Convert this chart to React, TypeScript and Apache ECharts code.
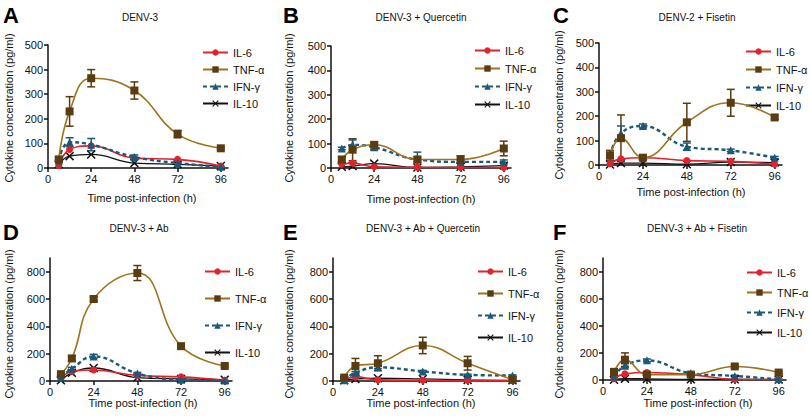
import React, { useEffect, useRef } from "react";
import * as echarts from "echarts";

const TIMES = [6, 12, 24, 48, 72, 96];
const X_TICKS = [0, 24, 48, 72, 96];
const Y_TICKS_TOP = [0, 100, 200, 300, 400, 500];
const Y_TICKS_BOTTOM = [0, 200, 400, 600, 800];
const SERIES_NAMES = ["IL-6", "TNF-α", "IFN-γ", "IL-10"];

const PANEL_LETTERS = ["A", "B", "C", "D", "E", "F"];
const PANEL_TITLES = [
  "DENV-3",
  "DENV-3 + Quercetin",
  "DENV-2 + Fisetin",
  "DENV-3 + Ab",
  "DENV-3 + Ab + Quercetin",
  "DENV-3 + Ab + Fisetin",
];

// Panel A
const A_IL6 = [10, 75, 90, 40, 35, 8];
const A_TNF = [35, 230, 365, 315, 138, 80];
const A_IFN = [30, 105, 95, 45, 20, 5];
const A_IL10 = [15, 48, 55, 20, 15, 8];
const A_TNF_ERR = [8, 60, 35, 35, 15, 5];
const A_IFN_ERR = [5, 18, 25, 8, 5, 2];
// Panel B
const B_IL6 = [15, 20, 5, 3, 2, 2];
const B_TNF = [35, 75, 95, 35, 35, 80];
const B_IFN = [80, 95, 85, 35, 25, 25];
const B_IL10 = [5, 8, 18, 2, 5, 10];
const B_TNF_ERR = [10, 45, 10, 10, 15, 30];
const B_IFN_ERR = [5, 20, 10, 30, 5, 8];
// Panel C
const C_IL6 = [5, 25, 30, 18, 15, 3];
const C_TNF = [40, 110, 30, 175, 255, 195];
const C_IFN = [40, 130, 160, 75, 60, 30];
const C_IL10 = [2, 8, 8, 3, 12, 10];
const C_TNF_ERR = [20, 95, 8, 78, 55, 8];
const C_IFN_ERR = [5, 30, 8, 15, 5, 5];
// Panel D
const D_IL6 = [20, 70, 80, 40, 30, 5];
const D_TNF = [50, 165, 600, 790, 255, 110];
const D_IFN = [30, 90, 180, 55, 10, 3];
const D_IL10 = [5, 60, 95, 25, 15, 10];
const D_TNF_ERR = [5, 20, 15, 55, 15, 10];
const D_IFN_ERR = [5, 10, 15, 8, 5, 2];
// Panel E
const E_IL6 = [5, 30, 8, 5, 3, 2];
const E_TNF = [25, 110, 130, 260, 130, 10];
const E_IFN = [5, 60, 100, 70, 45, 40];
const E_IL10 = [5, 15, 20, 15, 8, 5];
const E_TNF_ERR = [5, 55, 55, 60, 50, 5];
const E_IFN_ERR = [2, 10, 10, 8, 5, 5];
// Panel F
const F_IL6 = [10, 45, 55, 40, 5, 3];
const F_TNF = [60, 150, 40, 40, 100, 55];
const F_IFN = [25, 105, 145, 50, 30, 5];
const F_IL10 = [2, 10, 8, 5, 5, 3];
const F_TNF_ERR = [10, 50, 8, 8, 10, 8];
const F_IFN_ERR = [5, 15, 10, 5, 5, 2];

const PANELS = [
  { il6: A_IL6, tnf: A_TNF, ifn: A_IFN, il10: A_IL10, tnfErr: A_TNF_ERR, ifnErr: A_IFN_ERR },
  { il6: B_IL6, tnf: B_TNF, ifn: B_IFN, il10: B_IL10, tnfErr: B_TNF_ERR, ifnErr: B_IFN_ERR },
  { il6: C_IL6, tnf: C_TNF, ifn: C_IFN, il10: C_IL10, tnfErr: C_TNF_ERR, ifnErr: C_IFN_ERR },
  { il6: D_IL6, tnf: D_TNF, ifn: D_IFN, il10: D_IL10, tnfErr: D_TNF_ERR, ifnErr: D_IFN_ERR },
  { il6: E_IL6, tnf: E_TNF, ifn: E_IFN, il10: E_IL10, tnfErr: E_TNF_ERR, ifnErr: E_IFN_ERR },
  { il6: F_IL6, tnf: F_TNF, ifn: F_IFN, il10: F_IL10, tnfErr: F_TNF_ERR, ifnErr: F_IFN_ERR },
];

// layout
const GRIDS = [
  { left: 48, top: 45, width: 180, height: 123 },
  { left: 331, top: 46, width: 180, height: 122 },
  { left: 599, top: 43, width: 183, height: 122 },
  { left: 50, top: 258, width: 182, height: 123 },
  { left: 333, top: 258, width: 187, height: 123 },
  { left: 603, top: 258, width: 183, height: 122 },
];
const LEGENDS = [
  { left: 202, top: 47, gap: 6 },
  { left: 474, top: 45, gap: 7 },
  { left: 745, top: 46, gap: 7 },
  { left: 204, top: 266, gap: 16 },
  { left: 477, top: 266, gap: 11 },
  { left: 746, top: 267, gap: 9 },
];
const TITLE_POS = [
  [140, 17], [421, 17], [697, 17], [139, 228], [423, 228], [697, 228],
];
const LETTER_POS = [
  [3, 15], [283, 15], [553, 15], [3, 232], [283, 232], [553, 232],
];
const XNAME_POS = [
  [142, 198], [421, 199], [691, 192], [143, 403], [421, 403], [698, 403],
];
const YNAME_POS = [
  [9, 108], [289, 108], [559, 105], [9, 324], [289, 324], [559, 324],
];

const FONT = "'Liberation Sans', Arial, Helvetica, sans-serif";
const RED = "#e3232b";
const TNF_LINE = "#a0721e";
const TNF_MARK = "#5a3c12";
const TEAL = "#1c5878";
const BLACK = "#111111";
const X_SYMBOL =
  "path://M0,1.2 L1.2,0 L5,3.8 L8.8,0 L10,1.2 L6.2,5 L10,8.8 L8.8,10 L5,6.2 L1.2,10 L0,8.8 L3.8,5 Z";

function errorSeries(gi: number, vals: number[], errs: number[], color: string) {
  const data = TIMES.map((t, i) => [t, Math.max(0, vals[i] - errs[i]), vals[i] + errs[i]]).filter(
    (_, i) => errs[i] > 0
  );
  return {
    type: "custom",
    xAxisIndex: gi,
    yAxisIndex: gi,
    z: 1,
    silent: true,
    encode: { x: 0, y: [1, 2] },
    data,
    renderItem: (params: any, api: any) => {
      const x = api.value(0);
      const lo = api.coord([x, api.value(1)]);
      const hi = api.coord([x, api.value(2)]);
      const c = 4;
      const style = { stroke: color, lineWidth: 1.5 };
      return {
        type: "group",
        children: [
          { type: "line", shape: { x1: lo[0], y1: lo[1], x2: hi[0], y2: hi[1] }, style },
          { type: "line", shape: { x1: hi[0] - c, y1: hi[1], x2: hi[0] + c, y2: hi[1] }, style },
          { type: "line", shape: { x1: lo[0] - c, y1: lo[1], x2: lo[0] + c, y2: lo[1] }, style },
        ],
      };
    },
  };
}

function lineSeries(gi: number, name: string, vals: number[]) {
  const base: any = {
    type: "line",
    name,
    xAxisIndex: gi,
    yAxisIndex: gi,
    smooth: 0.45,
    data: TIMES.map((t, i) => [t, vals[i]]),
  };
  if (name === "IL-6") {
    Object.assign(base, {
      z: 3,
      symbol: "circle",
      symbolSize: 7,
      itemStyle: { color: RED },
      lineStyle: { color: RED, width: 1.6 },
    });
  } else if (name === "TNF-α") {
    Object.assign(base, {
      z: 5,
      symbol: "rect",
      symbolSize: 8,
      itemStyle: { color: TNF_MARK },
      lineStyle: { color: TNF_LINE, width: 1.6 },
    });
  } else if (name === "IFN-γ") {
    Object.assign(base, {
      z: 4,
      symbol: "triangle",
      symbolSize: 8,
      itemStyle: { color: TEAL },
      lineStyle: { color: TEAL, width: 2.4, type: [4, 3] },
    });
  } else {
    Object.assign(base, {
      z: 2,
      symbol: X_SYMBOL,
      symbolSize: 9,
      itemStyle: { color: BLACK },
      lineStyle: { color: BLACK, width: 1.3 },
    });
  }
  return base;
}

export default function App() {
  const ref = useRef<HTMLDivElement>(null);
  useEffect(() => {
    document.body.style.margin = "0";
    if (!ref.current) return;
    const chart = echarts.init(ref.current, null, { renderer: "svg" });

    const grid: any[] = [];
    const xAxis: any[] = [];
    const yAxis: any[] = [];
    const legend: any[] = [];
    const series: any[] = [];
    const graphic: any[] = [];

    PANELS.forEach((p, gi) => {
      const top = gi < 3;
      grid.push({ ...GRIDS[gi], containLabel: false });
      const axisLine = { show: true, onZero: false, lineStyle: { color: BLACK, width: 1.5 } };
      xAxis.push({
        type: "value",
        gridIndex: gi,
        min: 0,
        max: 100,
        axisLine,
        axisTick: { show: true, length: 4, customValues: X_TICKS, lineStyle: { color: BLACK, width: 1.5 } },
        axisLabel: { customValues: X_TICKS, fontSize: 11, color: BLACK, fontFamily: FONT, margin: 5 },
        splitLine: { show: false },
      });
      const yt = top ? Y_TICKS_TOP : Y_TICKS_BOTTOM;
      yAxis.push({
        type: "value",
        gridIndex: gi,
        min: 0,
        max: top ? 500 : 900,
        axisLine,
        axisTick: { show: true, length: 4, customValues: yt, lineStyle: { color: BLACK, width: 1.5 } },
        axisLabel: { customValues: yt, fontSize: 11, color: BLACK, fontFamily: FONT, margin: 5 },
        splitLine: { show: false },
      });
      legend.push({
        data: SERIES_NAMES,
        orient: "vertical",
        left: LEGENDS[gi].left,
        top: LEGENDS[gi].top,
        itemGap: LEGENDS[gi].gap,
        itemWidth: 25,
        itemHeight: 8,
        selectedMode: false,
        padding: 0,
        textStyle: { fontSize: 11, lineHeight: 11, color: BLACK, fontFamily: FONT },
      });
      series.push(errorSeries(gi, p.tnf, p.tnfErr, TNF_MARK));
      series.push(errorSeries(gi, p.ifn, p.ifnErr, TEAL));
      series.push(lineSeries(gi, "IL-10", p.il10));
      series.push(lineSeries(gi, "IL-6", p.il6));
      series.push(lineSeries(gi, "IFN-γ", p.ifn));
      series.push(lineSeries(gi, "TNF-α", p.tnf));

      graphic.push({
        type: "text",
        x: LETTER_POS[gi][0],
        y: LETTER_POS[gi][1],
        style: {
          text: PANEL_LETTERS[gi],
          font: `bold 22px ${FONT}`,
          fill: "#000",
          textAlign: "left",
          textVerticalAlign: "middle",
        },
      });
      graphic.push({
        type: "text",
        x: TITLE_POS[gi][0],
        y: TITLE_POS[gi][1],
        style: {
          text: PANEL_TITLES[gi],
          font: `10px ${FONT}`,
          fill: BLACK,
          textAlign: "center",
          textVerticalAlign: "middle",
        },
      });
      graphic.push({
        type: "text",
        x: XNAME_POS[gi][0],
        y: XNAME_POS[gi][1],
        style: {
          text: "Time post-infection (h)",
          font: `11px ${FONT}`,
          fill: BLACK,
          textAlign: "center",
          textVerticalAlign: "middle",
        },
      });
      graphic.push({
        type: "text",
        x: YNAME_POS[gi][0],
        y: YNAME_POS[gi][1],
        rotation: Math.PI / 2,
        style: {
          text: "Cytokine concentration (pg/ml)",
          font: `11px ${FONT}`,
          fill: BLACK,
          textAlign: "center",
          textVerticalAlign: "middle",
        },
      });
    });

    chart.setOption({
      animation: false,
      backgroundColor: "#ffffff",
      textStyle: { fontFamily: FONT },
      grid,
      xAxis,
      yAxis,
      legend,
      series,
      graphic,
    });
    return () => chart.dispose();
  }, []);
  return <div ref={ref} style={{ width: 810, height: 420 }} />;
}
